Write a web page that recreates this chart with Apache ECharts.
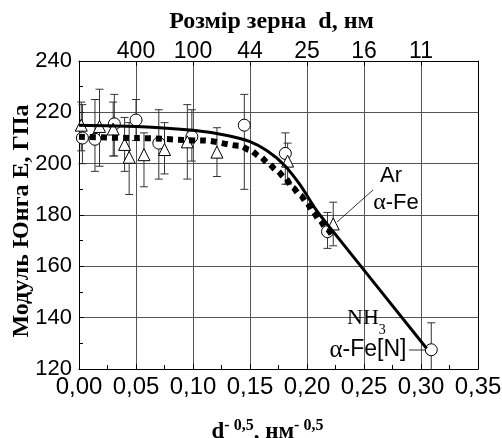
<!DOCTYPE html>
<html>
<head>
<meta charset="utf-8">
<script src="https://cdn.jsdelivr.net/npm/echarts@6/dist/echarts.min.js"></script>
<style>html,body{margin:0;padding:0;background:#fff}#c{width:502px;height:438px}</style>
</head>
<body>
<div id="c"></div>
<script>
// ---- data ----
const xTickFormat = v => v.toFixed(2).replace('.', ',');
const topTickValues = [0.05, 0.10, 0.15, 0.20, 0.25, 0.30];
const topTickLabels = ['400', '100', '44', '25', '16', '11'];

// circles: [x, E, low, high]
const circles = [
  [0.003, 210.0, 200, 223],
  [0.014, 209.5, 197, 225],
  [0.031, 215.5, 203, 227],
  [0.050, 217.0, 209, 225],
  [0.070, 208.0, 194, 221],
  [0.099, 210.5, 201, 221],
  [0.145, 215.0, 190, 227],
  [0.181, 204.0, 192, 212],
  [0.218, 173.5, 167, 181],
  [0.309, 127.5, 117, 138]
];
// triangles: [x, E, low, high]
const triangles = [
  [0.002, 215.0, 205, 224],
  [0.018, 214.5, 199, 229],
  [0.030, 213.5, 203, 224],
  [0.040, 207.5, 197, 218],
  [0.044, 202.5, 188, 216],
  [0.057, 203.5, 191, 212],
  [0.075, 205.5, 196, 216],
  [0.095, 208.5, 194, 223],
  [0.121, 204.5, 195, 214],
  [0.183, 201.0, 192, 208],
  [0.223, 176.5, 168, 185]
];
// solid fit line (NH3, alpha-Fe[N])
const solidLine = [
  [0.000, 215.0], [0.050, 214.5], [0.100, 213.0], [0.130, 211.0], [0.150, 208.6],
  [0.165, 205.0], [0.180, 199.5], [0.194, 191.7], [0.208, 182.0], [0.223, 173.5],
  [0.305, 128.0]
];
// dotted fit line (Ar, alpha-Fe)
const dottedLine = [
  [0.000, 210.5], [0.050, 210.0], [0.110, 209.0], [0.141, 207.0], [0.150, 205.3],
  [0.159, 202.7], [0.166, 200.2], [0.173, 197.5], [0.181, 194.4], [0.187, 190.8],
  [0.194, 187.8], [0.200, 184.7], [0.205, 181.3], [0.211, 178.0], [0.217, 174.8],
  [0.222, 172.0]
];

const chart = echarts.init(document.getElementById('c'), null, {renderer: 'canvas'});

function errorBar(params, api) {
  const x = api.value(0), lo = api.value(2), hi = api.value(3);
  const cs = params.coordSys;
  const p1 = api.coord([x, lo]), p2 = api.coord([x, hi]);
  const top = cs.y, bot = cs.y + cs.height;
  const y1 = Math.min(p1[1], bot), y2 = Math.max(p2[1], top);
  const st = {stroke: '#333', lineWidth: 1};
  const ch = [{type: 'line', shape: {x1: p1[0], y1: y1, x2: p1[0], y2: y2}, style: st}];
  const w = 4;
  if (p1[1] <= bot) ch.push({type: 'line', shape: {x1: p1[0] - w, y1: p1[1], x2: p1[0] + w, y2: p1[1]}, style: st});
  if (p2[1] >= top) ch.push({type: 'line', shape: {x1: p2[0] - w, y1: p2[1], x2: p2[0] + w, y2: p2[1]}, style: st});
  return {type: 'group', children: ch};
}

const sans = 'Liberation Sans, Arial, sans-serif';
const serif = 'Liberation Serif, Times New Roman, serif';

const option = {
  animation: false,
  backgroundColor: '#fff',
  grid: {left: 79, right: 24, top: 61, bottom: 69, show: false, containLabel: false, outerBoundsMode: 'none'},
  xAxis: [{
    type: 'value', min: 0, max: 0.35, interval: 0.05, position: 'bottom',
    axisLine: {show: true, onZero: false, lineStyle: {color: '#000', width: 1}},
    axisTick: {show: true, inside: true, length: 5, lineStyle: {color: '#000'}},
    minorTick: {show: true, splitNumber: 2, length: 4, lineStyle: {color: '#000'}},
    splitLine: {show: true, lineStyle: {color: '#555', width: 1}},
    axisLabel: {formatter: xTickFormat, fontSize: 24, color: '#000', fontFamily: sans, margin: 6},
    name: '{b|d}{s|- 0,5}{b|, нм}{s|- 0,5}',
    nameLocation: 'middle', nameGap: 49,
    nameTextStyle: {
      padding: [0, 22, 0, 0],
      rich: {
        b: {fontSize: 23, fontWeight: 'bold', fontFamily: serif, color: '#000', lineHeight: 26, verticalAlign: 'bottom'},
        s: {fontSize: 16, fontWeight: 'bold', fontFamily: serif, color: '#000', lineHeight: 26, verticalAlign: 'top', padding: [0, 0, 8, 0]}
      }
    }
  }, {
    type: 'value', min: 0, max: 0.35, interval: 0.05, position: 'top',
    axisLine: {show: true, onZero: false, lineStyle: {color: '#000', width: 1}},
    axisTick: {show: true, inside: true, length: 5, lineStyle: {color: '#000'}},
    splitLine: {show: false},
    axisLabel: {
      formatter: v => {
        const i = topTickValues.findIndex(t => Math.abs(t - v) < 1e-6);
        return i >= 0 ? topTickLabels[i] : '';
      },
      fontSize: 23, color: '#000', fontFamily: sans, margin: -2
    },
    name: 'Розмір зерна  d, нм', nameLocation: 'middle', nameGap: 27,
    nameTextStyle: {fontSize: 24, fontWeight: 'bold', fontFamily: serif, color: '#000', padding: [0, 14, 0, 0]}
  }],
  yAxis: [{
    type: 'value', min: 120, max: 240, interval: 20,
    axisLine: {show: true, onZero: false, lineStyle: {color: '#000', width: 1}},
    axisTick: {show: true, inside: true, length: 5, lineStyle: {color: '#000'}},
    minorTick: {show: true, splitNumber: 2, length: 4, lineStyle: {color: '#000'}},
    splitLine: {show: true, lineStyle: {color: '#555', width: 1}},
    axisLabel: {fontSize: 22, color: '#000', fontFamily: sans, margin: 7},
    name: 'Модуль Юнга E, ГПа', nameLocation: 'middle', nameGap: 45, nameMoveOverlap: false,
    nameTextStyle: {fontSize: 24, fontWeight: 'bold', fontFamily: serif, color: '#000', padding: [0, 12, 0, 0]}
  }, {
    type: 'value', min: 120, max: 240, interval: 20, position: 'right',
    axisLine: {show: true, onZero: false, lineStyle: {color: '#000', width: 1}},
    axisTick: {show: false}, axisLabel: {show: false}, splitLine: {show: false}
  }],
  series: [
    {type: 'custom', name: 'errC', renderItem: errorBar, data: circles, encode: {x: 0, y: [1, 2, 3]}, z: 1, clip: false},
    {type: 'custom', name: 'errT', renderItem: errorBar, data: triangles, encode: {x: 0, y: [1, 2, 3]}, z: 1, clip: false},
    {type: 'scatter', name: 'circles', data: circles.map(d => [d[0], d[1]]), symbol: 'circle', symbolSize: 12,
      itemStyle: {color: '#fff', borderColor: '#000', borderWidth: 1, opacity: 1}, z: 2},
    {type: 'scatter', name: 'triangles', data: triangles.map(d => [d[0], d[1]]), symbol: 'triangle', symbolSize: 12,
      itemStyle: {color: '#fff', borderColor: '#000', borderWidth: 1, opacity: 1}, z: 2},
    {type: 'line', name: 'solid', data: solidLine, showSymbol: false, smooth: 0.25,
      lineStyle: {color: '#000', width: 3}, z: 3},
    {type: 'line', name: 'dotted', data: dottedLine, showSymbol: false, smooth: 0.3, smoothMonotone: 'x',
      lineStyle: {color: '#000', width: 6, type: [6, 5], cap: 'butt'}, z: 4}
  ],
  graphic: [
    {type: 'text', x: 391, y: 176, z: 10, style: {text: 'Ar', font: '22px ' + sans, fill: '#000', align: 'center', verticalAlign: 'middle'}},
    {type: 'text', x: 396, y: 203, z: 10, style: {
      text: '{a|α}{b|-Fe}', align: 'center', verticalAlign: 'middle',
      rich: {a: {font: '24px ' + serif, fill: '#000'}, b: {font: '22px ' + sans, fill: '#000'}}
    }},
    {type: 'line', z: 10, shape: {x1: 373, y1: 190, x2: 337, y2: 222}, style: {stroke: '#000', lineWidth: 0.8}},
    {type: 'text', x: 347, y: 322, z: 10, style: {
      text: '{n|NH}{s|3}', align: 'left', verticalAlign: 'middle',
      rich: {n: {font: '22px ' + serif, fill: '#000', verticalAlign: 'top', lineHeight: 22}, s: {font: '14px ' + serif, fill: '#000', verticalAlign: 'bottom', lineHeight: 30}}
    }},
    {type: 'text', x: 368, y: 350, z: 10, style: {
      text: '{a|α}{b|-Fe[N]}', align: 'center', verticalAlign: 'middle',
      rich: {a: {font: '25px ' + serif, fill: '#000'}, b: {font: '23px ' + sans, fill: '#000'}}
    }},
    {type: 'line', z: 10, shape: {x1: 409, y1: 350, x2: 426, y2: 350}, style: {stroke: '#000', lineWidth: 0.8}}
  ]
};
chart.setOption(option);
</script>
</body>
</html>
